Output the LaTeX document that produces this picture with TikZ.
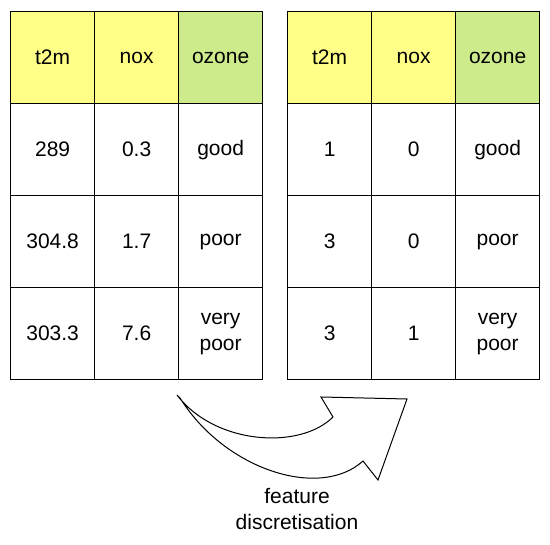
\documentclass[tikz,border=0pt]{standalone}
\usepackage{fontspec}
\setmainfont{Liberation Sans}
\usepackage{xcolor}
\usepackage{tikz}
\usetikzlibrary{matrix}

\definecolor{headyellow}{RGB}{255,255,136}
\definecolor{headgreen}{RGB}{205,235,139}

\begin{document}
\begin{tikzpicture}[x=1pt, y=-1pt, line width=1.3pt, font=\fontsize{21}{26}\selectfont]
	\useasboundingbox (0,0) rectangle (550,545);
	\tikzset{datatable/.style={matrix of nodes, anchor=north west, inner sep=0pt, outer sep=0pt, nodes={draw, minimum width=84pt, minimum height=92pt, text width=70pt, inner sep=7pt, align=center, anchor=center}, column sep=-\pgflinewidth, row sep=-\pgflinewidth}}
	% original values
	\matrix(orig)[datatable] at (10,11){
		|[fill=headyellow]|t2m	&|[fill=headyellow]|nox	&|[fill=headgreen]|ozone\\
		289	&0.3	&good\\
		304.8	&1.7	&poor\\
		303.3	&7.6	&very poor\\
	};
	% discretised values
	\matrix(disc)[datatable] at (287,11){
		|[fill=headyellow]|t2m	&|[fill=headyellow]|nox	&|[fill=headgreen]|ozone\\
		1	&0	&good\\
		3	&0	&poor\\
		3	&1	&very poor\\
	};
	% curved block arrow
	\draw[fill=white, line width=1pt, line join=miter] (177,395) .. controls (215,445) and (300,450) .. (333,417)
		-- (321,397) -- (407,399) -- (378,480) -- (363,461)
		.. controls (320,500) and (225,470) .. (180,398) -- cycle;
	\node[align=center] (lbl) at (297,509) {feature\\discretisation};
\end{tikzpicture}
\end{document}
